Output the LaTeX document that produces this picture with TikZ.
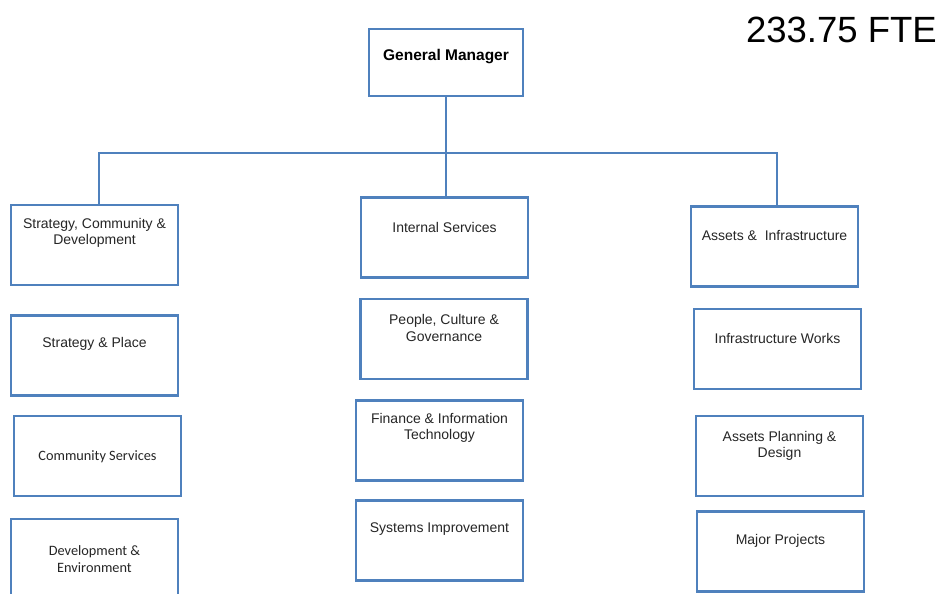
\documentclass[tikz,border=0pt]{standalone}
\usepackage{fontspec}
\setmainfont{Liberation Sans}
\newfontfamily\calfont{Carlito}
\definecolor{boxblue}{HTML}{4F81BD}
\begin{document}
\begin{tikzpicture}[x=1pt,y=-1pt,
  orgbox/.style={draw=boxblue,line width=2.5pt,rectangle,minimum width=167pt,minimum height=80pt,inner sep=0pt},
  lbl/.style={font=\fontsize{14}{16.5}\selectfont,align=center,text=black!85,inner sep=0pt},
  cal/.style={font=\calfont\fontsize{14.3}{16.5}\selectfont,align=center,text=black!85,inner sep=0pt},
  conn/.style={draw=boxblue,line width=2.5pt}]
\useasboundingbox[fill=white] (0,0) rectangle (940,594);
% boxes
\node[orgbox,minimum width=154pt,minimum height=67pt] (gm) at (446,62.5) {};
\node[orgbox] (scd) at (94.5,245) {};
\node[orgbox] (sp) at (94.5,355.5) {};
\node[orgbox] (cs) at (97.5,456) {};
\node[orgbox] (de) at (94.5,559) {};
\node[orgbox] (is) at (444.5,237.5) {};
\node[orgbox] (pcg) at (444,339) {};
\node[orgbox] (fit) at (439.5,440.5) {};
\node[orgbox] (si) at (439.5,540.5) {};
\node[orgbox] (ai) at (774.5,246.5) {};
\node[orgbox] (iw) at (777.5,349) {};
\node[orgbox] (apd) at (779.5,456) {};
\node[orgbox] (mp) at (780.5,551.5) {};
% texts
\node[lbl,font=\bfseries\fontsize{15.5}{18}\selectfont,text=black] (tgm) at (446,57) {General Manager};
\node[lbl] (tscd) at (94.5,233) {Strategy, Community \&\\Development};
\node[lbl] (tsp) at (94.5,344) {Strategy \& Place};
\node[cal] (tcs) at (97.5,457) {Community Services};
\node[cal] (tde) at (94.5,559) {Development \&\\Environment};
\node[lbl] (tis) at (444.5,227) {Internal Services};
\node[lbl] (tpcg) at (444,328) {People, Culture \&\\Governance};
\node[lbl] (tfit) at (439.5,428) {Finance \& Information\\Technology};
\node[lbl] (tsi) at (439.5,529) {Systems Improvement};
\node[lbl] (tai) at (774.5,236) {Assets \&\ \ Infrastructure};
\node[lbl] (tiw) at (777.5,338) {Infrastructure Works};
\node[lbl] (tapd) at (779.5,446) {Assets Planning \&\\Design};
\node[lbl] (tmp) at (780.5,541) {Major Projects};
\node[font=\fontsize{36.5}{40}\selectfont,inner sep=0pt,anchor=east] (fte) at (937,30) {233.75 FTE};
% connectors
\coordinate (lj) at (99,153);
\coordinate (rj) at (777,153);
\draw[conn] (gm.south) -- (gm.south |- is.north);
\draw[conn] (lj |- scd.north) -- (lj) -- (rj) -- (rj |- ai.north);
\end{tikzpicture}
\end{document}
